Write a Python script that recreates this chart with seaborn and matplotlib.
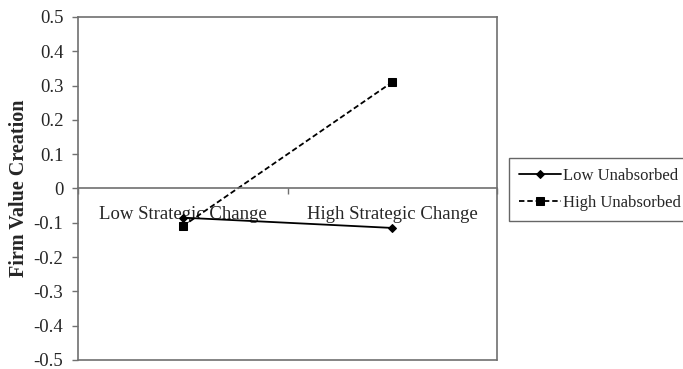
import pandas as pd
import matplotlib
matplotlib.use("Agg")
import matplotlib.pyplot as plt
import seaborn as sns

# -------- data --------
categories = ["Low Strategic Change", "High Strategic Change"]
low_unabsorbed = [-0.085, -0.115]
high_unabsorbed = [-0.11, 0.31]
series_names = ["Low Unabsorbed", "High Unabsorbed"]
y_ticks = [-0.5, -0.4, -0.3, -0.2, -0.1, 0, 0.1, 0.2, 0.3, 0.4, 0.5]
y_tick_labels = ["-0.5", "-0.4", "-0.3", "-0.2", "-0.1", "0", "0.1", "0.2", "0.3", "0.4", "0.5"]

df = pd.DataFrame({
    "cond": categories * 2,
    "value": low_unabsorbed + high_unabsorbed,
    "group": [series_names[0]] * 2 + [series_names[1]] * 2,
})

# -------- style --------
sns.set_style("white")
plt.rcParams["font.family"] = ["Liberation Serif", "DejaVu Serif"]
frame_col = "#707070"

fig = plt.figure(figsize=(6.83, 3.69), dpi=100)
ax = fig.add_axes([0.1142, 0.0244, 0.6135, 0.9296])

sns.lineplot(
    data=df, x="cond", y="value", hue="group", style="group",
    palette=["black", "black"],
    markers={"Low Unabsorbed": "D", "High Unabsorbed": "s"},
    dashes={"Low Unabsorbed": "", "High Unabsorbed": (3, 1.6)},
    markersize=4.2, linewidth=1.3, markeredgecolor="black",
    sort=False, ax=ax,
)
for ln in ax.lines:
    if ln.get_marker() == "s":
        ln.set_markersize(5.5)

ax.set_xlim(-0.5, 1.5)
ax.set_ylim(-0.5, 0.5)

# y axis
ax.set_yticks(y_ticks)
ax.set_yticklabels(y_tick_labels, fontsize=13.5)
ax.tick_params(axis="y", direction="out", length=4.5, width=1, color=frame_col,
               pad=6, left=True)
ax.set_ylabel("Firm Value Creation", fontsize=14.5, fontweight="bold", labelpad=3)
ax.set_xlabel("")

# category axis crossing at zero
ax.spines["bottom"].set_position(("data", 0))
ax.set_xticks([-0.5, 0.5, 1.5])
ax.set_xticklabels(["", "", ""])
ax.set_xticks([0, 1], minor=True)
ax.set_xticklabels(categories, minor=True, fontsize=13.5)
ax.tick_params(axis="x", which="major", direction="out", length=4, width=1,
               color=frame_col, bottom=True)
ax.tick_params(axis="x", which="minor", length=0, pad=12.5)
ax.axhline(-0.5, color=frame_col, linewidth=1.2, clip_on=False, zorder=0)

for s in ["left", "right", "top", "bottom"]:
    ax.spines[s].set_visible(True)
    ax.spines[s].set_color(frame_col)
    ax.spines[s].set_linewidth(1.2)

# legend outside on the right
handles, labels = ax.get_legend_handles_labels()
leg = ax.legend(handles, labels, loc="upper left",
                bbox_to_anchor=(0.745, 0.572), bbox_transform=fig.transFigure,
                borderaxespad=0, frameon=True, fancybox=False, fontsize=12,
                handlelength=2.5, handletextpad=0.15, borderpad=0.6,
                labelspacing=0.68)
leg.get_frame().set_edgecolor("#404040")
leg.get_frame().set_linewidth(1.0)

fig.savefig("out.png", dpi=100)
